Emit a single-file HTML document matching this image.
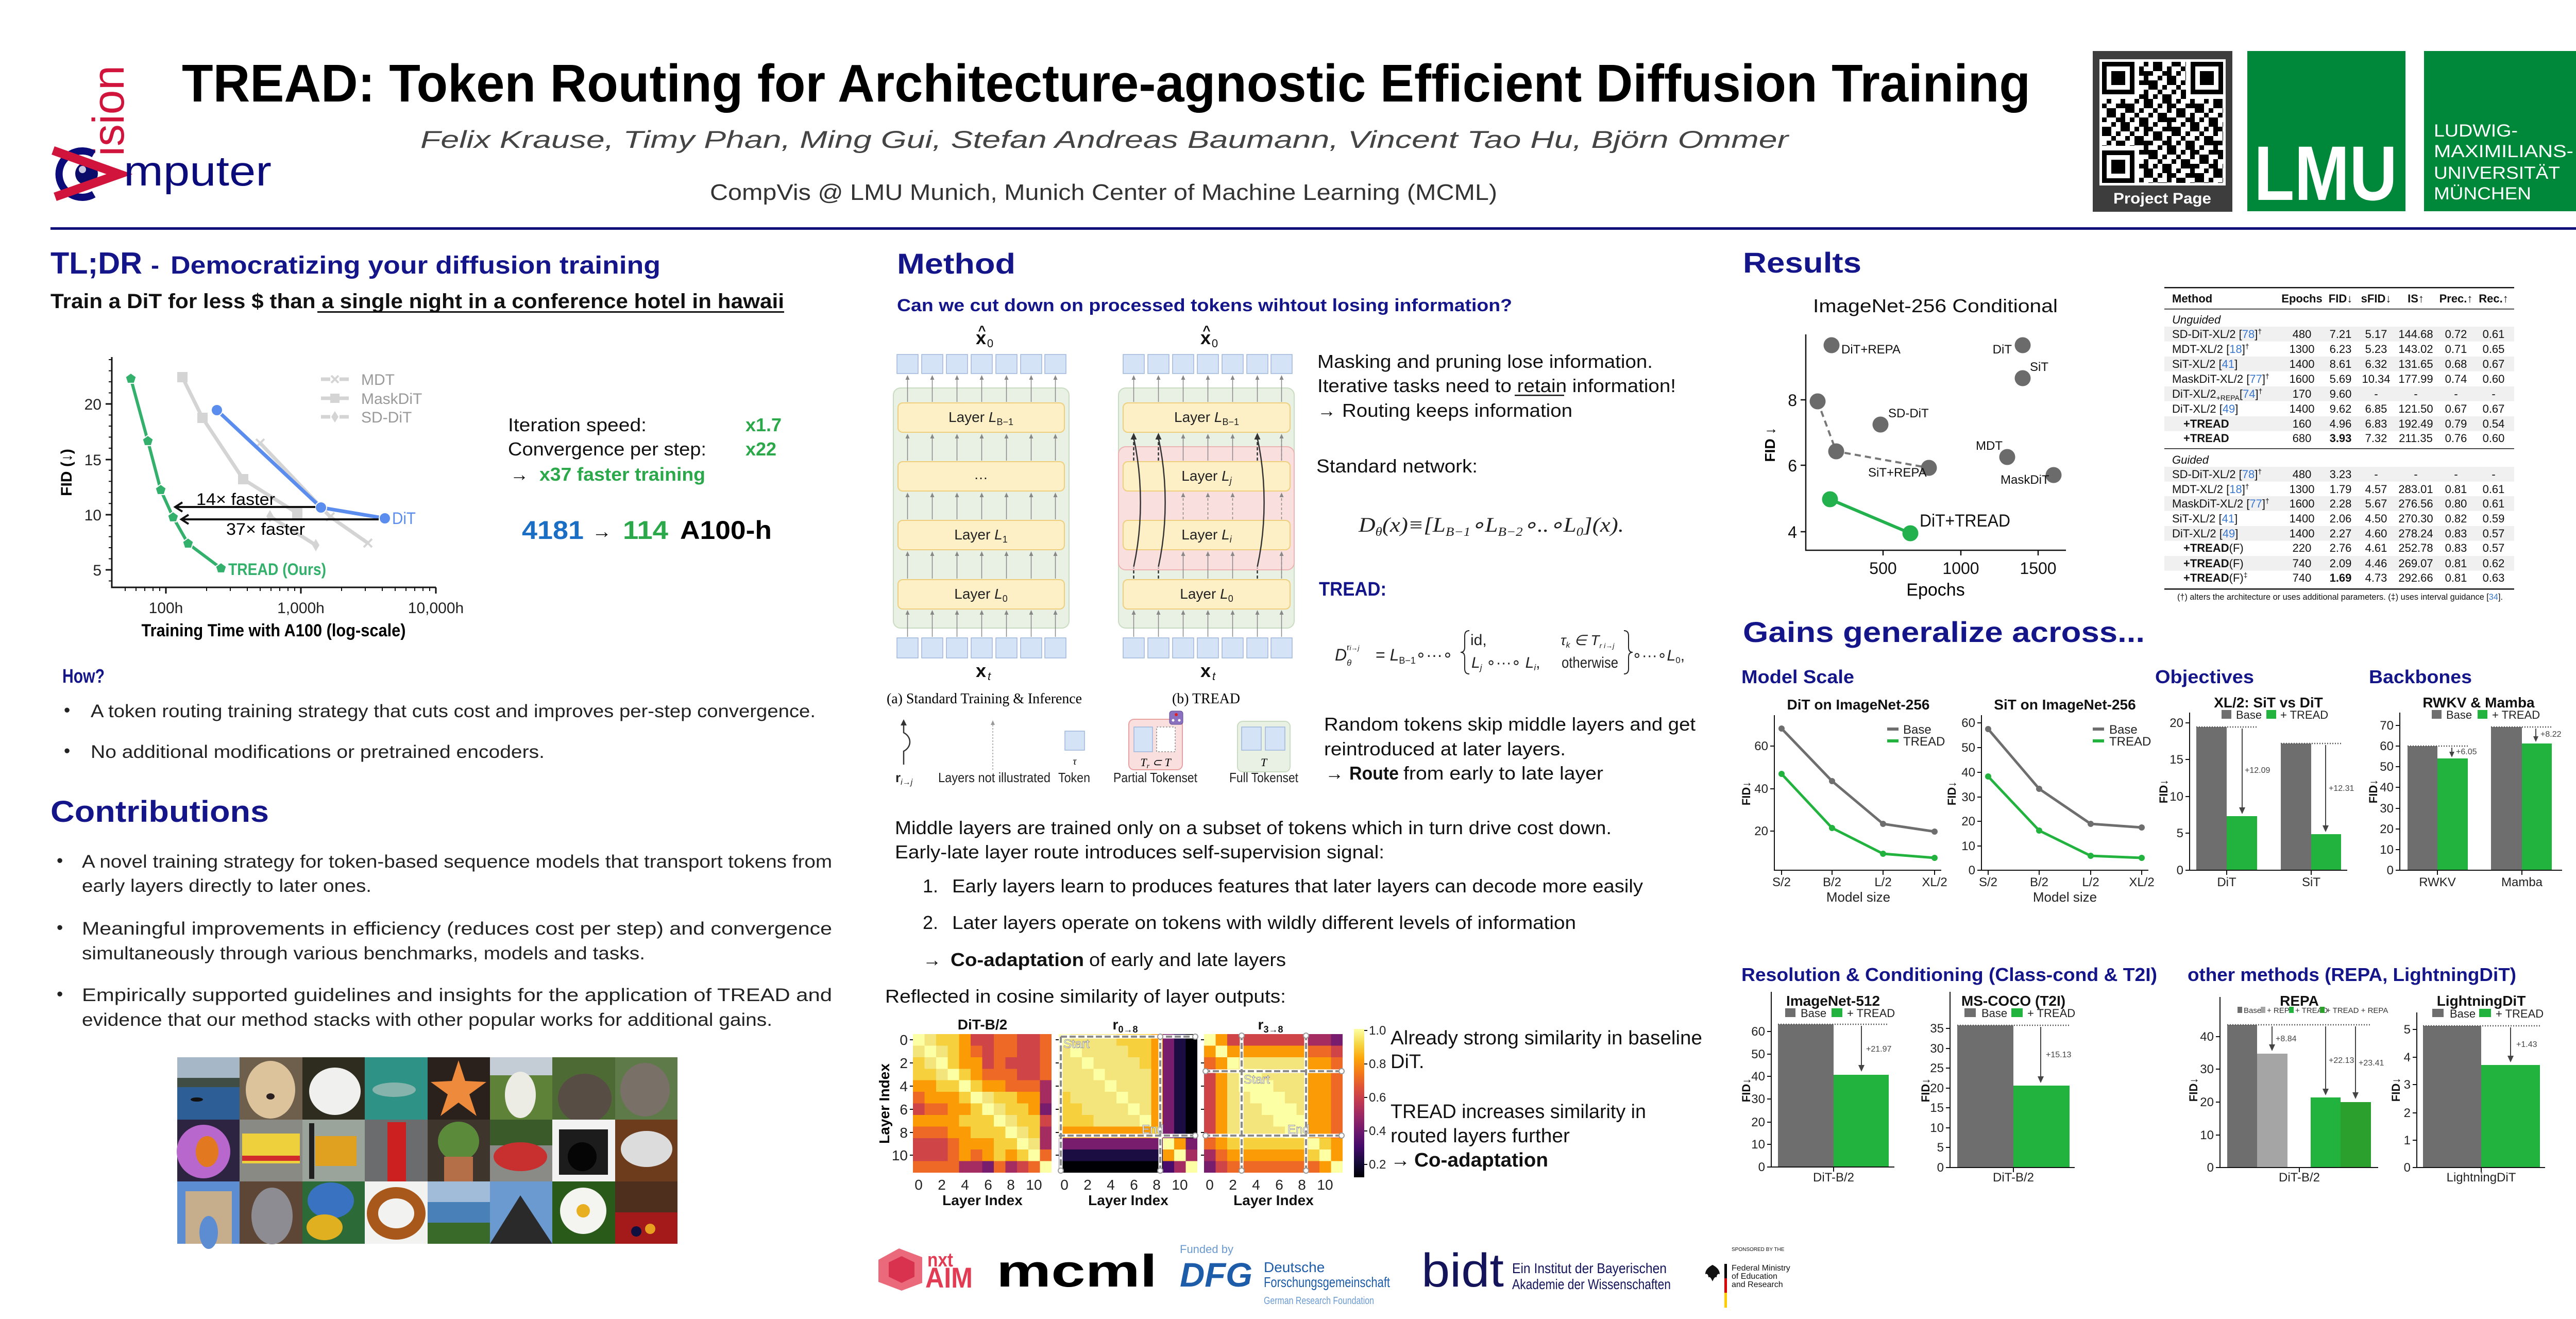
<!DOCTYPE html>
<html><head><meta charset="utf-8"><title>TREAD poster</title>
<style>
html,body{margin:0;padding:0;background:#fff;}
svg{display:block;}
text{font-family:"Liberation Sans",sans-serif;}
.sf{font-family:"Liberation Serif",serif;}
.nv{fill:#15158a;font-weight:bold;}
.c0{fill:#000004}.c1{fill:#1b0c41}.c2{fill:#4a0c6b}.c3{fill:#781c6d}.c4{fill:#a52c60}.c5{fill:#cf4446}.c6{fill:#ed6925}.c7{fill:#fb9b06}.c8{fill:#f7d13d}.c8b{fill:#f4e47c}.c9{fill:#fcffa4}
.tk{fill:#d5e3f7;stroke:#9db6da;stroke-width:1.5}
.ly{fill:#fdefc6;stroke:#efcf7c;stroke-width:2}
</style></head><body>
<svg width="5120" height="2560" viewBox="0 0 5120 2560" xmlns="http://www.w3.org/2000/svg">
<defs>
<linearGradient id="cb" x1="0" y1="0" x2="0" y2="1">
<stop offset="0" stop-color="#fcffa4"/><stop offset="0.1" stop-color="#f6d746"/><stop offset="0.2" stop-color="#fca50a"/><stop offset="0.3" stop-color="#f37819"/><stop offset="0.4" stop-color="#dd513a"/><stop offset="0.5" stop-color="#bc3754"/><stop offset="0.6" stop-color="#932667"/><stop offset="0.7" stop-color="#6a176e"/><stop offset="0.8" stop-color="#420a68"/><stop offset="0.9" stop-color="#160b39"/><stop offset="1" stop-color="#000004"/>
</linearGradient>
<pattern id="qa" x="4080" y="120" width="27" height="27" patternUnits="userSpaceOnUse"><rect width="9" height="9"/><rect x="9" y="18" width="9" height="9"/><rect x="18" y="9" width="9" height="9"/></pattern>
<pattern id="qb" x="4080" y="120" width="45" height="45" patternUnits="userSpaceOnUse"><rect x="9" y="0" width="9" height="9"/><rect x="27" y="18" width="18" height="9"/><rect x="0" y="36" width="9" height="9"/><rect x="36" y="27" width="9" height="18"/><rect x="18" y="9" width="9" height="9"/></pattern>
<path id="pent" d="M0,-11 L10.5,-3.4 L6.5,8.9 L-6.5,8.9 L-10.5,-3.4 Z"/>
</defs>
<rect width="5120" height="2560" fill="#fff"/>

<!-- ================= HEADER ================= -->
<text transform="translate(240,303) rotate(-90)" font-size="86" fill="#d0143c" textLength="176" lengthAdjust="spacingAndGlyphs">ision</text>
<path d="M182 299 A45 45 0 1 0 182 377" fill="none" stroke="#0b0b7a" stroke-width="14"/>
<circle cx="168" cy="337" r="22" fill="#0b0b6a"/><circle cx="160" cy="329" r="7" fill="#c8c8e0"/>
<polyline points="103,292 232,338 107,382" fill="none" stroke="#d0143c" stroke-width="17"/>
<text x="240" y="360" font-size="82" fill="#0b0b7a" textLength="287" lengthAdjust="spacingAndGlyphs">mputer</text>

<text x="353" y="197" font-size="103" font-weight="bold" fill="#000" textLength="3588" lengthAdjust="spacingAndGlyphs">TREAD: Token Routing for Architecture-agnostic Efficient Diffusion Training</text>
<text x="816" y="287" font-size="47" font-style="italic" fill="#444" textLength="2655" lengthAdjust="spacingAndGlyphs">Felix Krause, Timy Phan, Ming Gui, Stefan Andreas Baumann, Vincent Tao Hu, Björn Ommer</text>
<text x="1378" y="388" font-size="44" fill="#333" textLength="1528" lengthAdjust="spacingAndGlyphs">CompVis @ LMU Munich, Munich Center of Machine Learning (MCML)</text>

<!-- QR -->
<rect x="4062" y="99" width="271" height="312" fill="#3d3d3d"/>
<rect x="4075" y="115" width="245" height="245" fill="#fff"/>
<rect x="4080" y="120" width="235" height="235" fill="url(#qa)"/>
<rect x="4080" y="120" width="235" height="235" fill="url(#qb)"/>
<rect x="4080" y="120" width="72" height="72" fill="#fff"/><rect x="4080" y="120" width="63" height="63" fill="#000"/><rect x="4089" y="129" width="45" height="45" fill="#fff"/><rect x="4098" y="138" width="27" height="27" fill="#000"/>
<rect x="4243" y="120" width="72" height="72" fill="#fff"/><rect x="4252" y="120" width="63" height="63" fill="#000"/><rect x="4261" y="129" width="45" height="45" fill="#fff"/><rect x="4270" y="138" width="27" height="27" fill="#000"/>
<rect x="4080" y="283" width="72" height="72" fill="#fff"/><rect x="4080" y="292" width="63" height="63" fill="#000"/><rect x="4089" y="301" width="45" height="45" fill="#fff"/><rect x="4098" y="310" width="27" height="27" fill="#000"/>
<text x="4197" y="395" font-size="30" font-weight="bold" fill="#fff" text-anchor="middle" textLength="190" lengthAdjust="spacingAndGlyphs">Project Page</text>

<!-- LMU -->
<rect x="4362" y="99" width="307" height="311" fill="#00883a"/>
<text x="4375" y="388" font-size="150" font-weight="bold" fill="#fff" textLength="278" lengthAdjust="spacingAndGlyphs">LMU</text>
<rect x="4705" y="99" width="310" height="311" fill="#00883a"/>
<g font-size="34" fill="#fff">
<text x="4724" y="265" textLength="163" lengthAdjust="spacingAndGlyphs">LUDWIG-</text>
<text x="4724" y="305" textLength="271" lengthAdjust="spacingAndGlyphs">MAXIMILIANS-</text>
<text x="4724" y="347" textLength="245" lengthAdjust="spacingAndGlyphs">UNIVERSITÄT</text>
<text x="4724" y="387" textLength="189" lengthAdjust="spacingAndGlyphs">MÜNCHEN</text>
</g>
<rect x="98" y="441" width="4917" height="5" fill="#10107a"/>

<!-- ================= LEFT COLUMN ================= -->
<text x="98" y="531" font-size="59" class="nv" textLength="178" lengthAdjust="spacingAndGlyphs">TL;DR</text>
<text x="293" y="531" font-size="48" class="nv">-</text>
<text x="331" y="531" font-size="48" class="nv" textLength="951" lengthAdjust="spacingAndGlyphs">Democratizing your diffusion training</text>
<text x="98" y="598" font-size="40" font-weight="bold" fill="#111" textLength="1424" lengthAdjust="spacingAndGlyphs">Train a DiT for less $ than a single night in a conference hotel in hawaii</text>
<rect x="616" y="604" width="906" height="3" fill="#111"/>

<!-- left chart -->
<g stroke="#111" fill="none">
<path d="M217 693 V1140 H846" stroke-width="3"/>
<path d="M217 784h-12M217 892h-12M217 999h-12M217 1106h-12" stroke-width="3"/>
<path d="M217 1127.5h-6M217 1084.5h-6M217 1063h-6M217 1041.6h-6M217 1020.2h-6M217 977.2h-6M217 955.8h-6M217 934.3h-6M217 912.8h-6M217 869.9h-6M217 848.4h-6M217 827h-6M217 805.5h-6M217 762.5h-6M217 741h-6M217 719.6h-6M217 698h-6" stroke-width="2"/>
<path d="M322 1140v12M584 1140v12M846 1140v12" stroke-width="3"/>
<path d="M243 1140v7M264 1140v7M281 1140v7M297 1140v7M310 1140v7M401 1140v7M447 1140v7M480 1140v7M505 1140v7M526 1140v7M543 1140v7M559 1140v7M572 1140v7M663 1140v7M709 1140v7M742 1140v7M767 1140v7M788 1140v7M805 1140v7M821 1140v7M834 1140v7" stroke-width="2"/>
</g>
<g font-size="30" fill="#222" text-anchor="end"><text x="197" y="795">20</text><text x="197" y="903">15</text><text x="197" y="1010">10</text><text x="197" y="1117">5</text></g>
<g font-size="30" fill="#222" text-anchor="middle"><text x="322" y="1190">100h</text><text x="584" y="1190">1,000h</text><text x="846" y="1190">10,000h</text></g>
<text transform="translate(139,917) rotate(-90)" text-anchor="middle" font-size="30" font-weight="bold">FID (↓)</text>
<text x="531" y="1235" text-anchor="middle" font-size="34" font-weight="bold" textLength="513" lengthAdjust="spacingAndGlyphs">Training Time with A100 (log-scale)</text>
<g stroke="#d4d4d4" stroke-width="7" fill="none">
<polyline points="354,732 393,811 472,930 577,996"/>
<polyline points="505,860 641,1003 714,1054"/>
<polyline points="524,1002 613,1058"/>
</g>
<g fill="#d4d4d4"><rect x="344" y="722" width="20" height="20"/><rect x="383" y="801" width="20" height="20"/><rect x="462" y="920" width="20" height="20"/><rect x="567" y="986" width="20" height="20"/>
<path d="M524 990 l7 12 l-7 12 l-7 -12z M613 1046 l7 12 l-7 12 l-7 -12z"/></g>
<g stroke="#d4d4d4" stroke-width="4"><path d="M497 852l16 16M513 852l-16 16M633 995l16 16M649 995l-16 16M706 1046l16 16M722 1046l-16 16"/></g>
<polyline points="421,796 623,985 747,1006" fill="none" stroke="#5b8def" stroke-width="7"/>
<g fill="#5b8def" stroke="#fff" stroke-width="2"><circle cx="421" cy="796" r="11"/><circle cx="623" cy="985" r="11"/><circle cx="747" cy="1006" r="11"/></g>
<polyline points="254,735 287,856 312,951 336,1004 365,1055 429,1103" fill="none" stroke="#33b06b" stroke-width="6"/>
<g fill="#33b06b" stroke="#fff" stroke-width="2"><use href="#pent" x="254" y="735"/><use href="#pent" x="287" y="856"/><use href="#pent" x="312" y="951"/><use href="#pent" x="336" y="1004"/><use href="#pent" x="365" y="1055"/><use href="#pent" x="429" y="1103"/></g>
<path d="M612 984 H340 M354 975 L340 984 L354 993" stroke="#111" stroke-width="4" fill="none"/>
<path d="M735 1008 H352 M366 999 L352 1008 L366 1017" stroke="#111" stroke-width="4" fill="none"/>
<text x="381" y="980" font-size="32" textLength="153" lengthAdjust="spacingAndGlyphs">14× faster</text>
<text x="439" y="1038" font-size="32" textLength="153" lengthAdjust="spacingAndGlyphs">37× faster</text>
<text x="443" y="1116" font-size="32" font-weight="bold" fill="#33b06b" textLength="190" lengthAdjust="spacingAndGlyphs">TREAD (Ours)</text>
<text x="761" y="1017" font-size="32" fill="#5b8def" textLength="46" lengthAdjust="spacingAndGlyphs">DiT</text>
<g stroke="#d4d4d4" stroke-width="7"><path d="M623 736h18M659 736h18M623 773h18M659 773h18M623 809h18M659 809h18"/></g>
<g stroke="#d4d4d4" stroke-width="4"><path d="M643 729l14 14M657 729l-14 14"/></g>
<rect x="641" y="764" width="18" height="18" fill="#d4d4d4"/>
<path d="M650 798l7 11l-7 11l-7-11z" fill="#d4d4d4"/>
<g font-size="30" fill="#9a9a9a"><text x="701" y="747">MDT</text><text x="701" y="784">MaskDiT</text><text x="701" y="820">SD-DiT</text></g>

<g font-size="36" fill="#111">
<text x="986" y="837" textLength="269" lengthAdjust="spacingAndGlyphs">Iteration speed:</text>
<text x="986" y="884" textLength="385" lengthAdjust="spacingAndGlyphs">Convergence per step:</text>
<text x="990" y="933">→</text>
</g>
<g font-size="36" font-weight="bold" fill="#2aa84a">
<text x="1447" y="837">x1.7</text>
<text x="1447" y="884">x22</text>
<text x="1047" y="933" textLength="322" lengthAdjust="spacingAndGlyphs">x37 faster training</text>
</g>
<text x="1013" y="1046" font-size="50" font-weight="bold" fill="#1a6fc4" textLength="120" lengthAdjust="spacingAndGlyphs">4181</text>
<text x="1149" y="1044" font-size="38" fill="#111">→</text>
<text x="1209" y="1046" font-size="50" font-weight="bold" fill="#2aa84a" textLength="88" lengthAdjust="spacingAndGlyphs">114</text>
<text x="1320" y="1046" font-size="50" font-weight="bold" fill="#000" textLength="178" lengthAdjust="spacingAndGlyphs">A100-h</text>

<text x="121" y="1325" font-size="38" class="nv" textLength="82" lengthAdjust="spacingAndGlyphs">How?</text>
<g font-size="35" fill="#222">
<text x="124" y="1390">•</text>
<text x="176" y="1392" textLength="1407" lengthAdjust="spacingAndGlyphs">A token routing training strategy that cuts cost and improves per-step convergence.</text>
<text x="124" y="1469">•</text>
<text x="176" y="1471" textLength="881" lengthAdjust="spacingAndGlyphs">No additional modifications or pretrained encoders.</text>
</g>

<text x="98" y="1595" font-size="58" class="nv" textLength="424" lengthAdjust="spacingAndGlyphs">Contributions</text>
<g font-size="35" fill="#222">
<text x="110" y="1682">•</text>
<text x="159" y="1684" textLength="1456" lengthAdjust="spacingAndGlyphs">A novel training strategy for token-based sequence models that transport tokens from</text>
<text x="159" y="1731" textLength="562" lengthAdjust="spacingAndGlyphs">early layers directly to later ones.</text>
<text x="110" y="1812">•</text>
<text x="159" y="1814" textLength="1456" lengthAdjust="spacingAndGlyphs">Meaningful improvements in efficiency (reduces cost per step) and convergence</text>
<text x="159" y="1862" textLength="1093" lengthAdjust="spacingAndGlyphs">simultaneously through various benchmarks, models and tasks.</text>
<text x="110" y="1941">•</text>
<text x="159" y="1943" textLength="1456" lengthAdjust="spacingAndGlyphs">Empirically supported guidelines and insights for the application of TREAD and</text>
<text x="159" y="1991" textLength="1340" lengthAdjust="spacingAndGlyphs">evidence that our method stacks with other popular works for additional gains.</text>
</g>

<!-- image grid -->
<g>
<rect x="344" y="2052" width="121" height="40" fill="#a6b8c8"/><rect x="344" y="2092" width="121" height="18" fill="#3f4d45"/><rect x="344" y="2110" width="121" height="63" fill="#2d5f96"/><ellipse cx="382" cy="2134" rx="12" ry="4" fill="#111"/>
<rect x="465" y="2052" width="122" height="121" fill="#6e5e4c"/><ellipse cx="525" cy="2115" rx="48" ry="56" fill="#dcc39c"/><ellipse cx="525" cy="2128" rx="8" ry="6" fill="#2a2020"/>
<rect x="587" y="2052" width="121" height="121" fill="#2e2c1e"/><ellipse cx="650" cy="2118" rx="50" ry="46" fill="#f0f0ee"/>
<rect x="708" y="2052" width="122" height="121" fill="#2e9286"/><ellipse cx="765" cy="2115" rx="42" ry="14" fill="#86b4ac"/>
<rect x="830" y="2052" width="121" height="121" fill="#2a201c"/><polygon points="890,2058 903,2098 944,2100 911,2124 925,2166 890,2140 855,2166 869,2124 836,2100 877,2098" fill="#ee8a3c"/>
<rect x="951" y="2052" width="121" height="35" fill="#c4cdd6"/><rect x="951" y="2087" width="121" height="86" fill="#5e8238"/><ellipse cx="1010" cy="2125" rx="30" ry="45" fill="#ecebe4"/>
<rect x="1072" y="2052" width="122" height="121" fill="#4e6a34"/><ellipse cx="1135" cy="2132" rx="52" ry="48" fill="#574d44"/>
<rect x="1194" y="2052" width="121" height="121" fill="#5d7a48"/><ellipse cx="1252" cy="2115" rx="48" ry="52" fill="#797068"/>

<rect x="344" y="2173" width="121" height="120" fill="#2c2440"/><ellipse cx="395" cy="2235" rx="52" ry="52" fill="#b868cc"/><ellipse cx="402" cy="2235" rx="22" ry="30" fill="#e27820"/>
<rect x="465" y="2173" width="122" height="120" fill="#8a8a84"/><rect x="470" y="2200" width="112" height="58" fill="#eecf3c"/><rect x="470" y="2243" width="112" height="10" fill="#d02a2a"/>
<rect x="587" y="2173" width="121" height="120" fill="#9aa49a"/><rect x="612" y="2205" width="80" height="58" fill="#e0a020"/><rect x="600" y="2180" width="10" height="108" fill="#202020"/>
<rect x="708" y="2173" width="122" height="120" fill="#6a6c6e"/><rect x="752" y="2178" width="36" height="115" fill="#cc1f1f"/>
<rect x="830" y="2173" width="121" height="120" fill="#3e362c"/><ellipse cx="890" cy="2215" rx="40" ry="38" fill="#5a8a3a"/><rect x="862" y="2245" width="56" height="48" fill="#b46e48"/>
<rect x="951" y="2173" width="121" height="50" fill="#3a5a2a"/><rect x="951" y="2223" width="121" height="70" fill="#8a8a86"/><ellipse cx="1010" cy="2245" rx="52" ry="28" fill="#c83030"/>
<rect x="1072" y="2173" width="122" height="120" fill="#f2f2f2"/><rect x="1085" y="2192" width="95" height="88" fill="#1c1c1c"/><circle cx="1130" cy="2245" r="28" fill="#050505"/>
<rect x="1194" y="2173" width="121" height="120" fill="#6c3c1c"/><ellipse cx="1255" cy="2230" rx="50" ry="35" fill="#dcdcdc"/>

<rect x="344" y="2293" width="121" height="121" fill="#5c8cd2"/><rect x="360" y="2312" width="90" height="102" fill="#c6ae8c"/><ellipse cx="405" cy="2392" rx="18" ry="32" fill="#5c8cd2"/>
<rect x="465" y="2293" width="122" height="121" fill="#5e4636"/><ellipse cx="528" cy="2360" rx="40" ry="55" fill="#8c8c92"/>
<rect x="587" y="2293" width="121" height="121" fill="#2c6a38"/><ellipse cx="642" cy="2330" rx="45" ry="35" fill="#3a72c2"/><ellipse cx="630" cy="2382" rx="35" ry="25" fill="#e0b020"/>
<rect x="708" y="2293" width="122" height="121" fill="#f2f2f0"/><ellipse cx="769" cy="2355" rx="46" ry="40" fill="none" stroke="#a8581a" stroke-width="22"/>
<rect x="830" y="2293" width="121" height="40" fill="#a0bcd8"/><rect x="830" y="2333" width="121" height="40" fill="#4a80b8"/><rect x="830" y="2373" width="121" height="41" fill="#3a6a2a"/>
<rect x="951" y="2293" width="121" height="121" fill="#6a9ad0"/><polygon points="951,2414 1010,2320 1072,2414" fill="#2a2a2a"/>
<rect x="1072" y="2293" width="122" height="121" fill="#2a5a1a"/><circle cx="1132" cy="2350" r="45" fill="#f4f4f0"/><circle cx="1132" cy="2350" r="13" fill="#e8b020"/>
<rect x="1194" y="2293" width="121" height="60" fill="#4e2e1c"/><rect x="1194" y="2353" width="121" height="61" fill="#a41a1a"/><circle cx="1235" cy="2390" r="10" fill="#101040"/><circle cx="1262" cy="2385" r="10" fill="#e8a020"/>
</g>

<!-- ================= MIDDLE COLUMN ================= -->
<text x="1741" y="531" font-size="56" class="nv" textLength="230" lengthAdjust="spacingAndGlyphs">Method</text>
<text x="1741" y="604" font-size="34" class="nv" textLength="1194" lengthAdjust="spacingAndGlyphs">Can we cut down on processed tokens wihtout losing information?</text>

<rect x="1734" y="753" width="341" height="466" rx="14" fill="#e8f1e4" stroke="#c9dcc2" stroke-width="2"/>
<rect x="2171" y="753" width="341" height="466" rx="14" fill="#e8f1e4" stroke="#c9dcc2" stroke-width="2"/>
<rect x="2171" y="867" width="341" height="239" rx="14" fill="#fadfdf" stroke="#ebb3b3" stroke-width="2"/>
<g>
<rect class="tk" x="1741" y="688" width="41" height="37"/><rect class="tk" x="1789" y="688" width="41" height="37"/><rect class="tk" x="1837" y="688" width="41" height="37"/><rect class="tk" x="1885" y="688" width="41" height="37"/><rect class="tk" x="1933" y="688" width="41" height="37"/><rect class="tk" x="1981" y="688" width="41" height="37"/><rect class="tk" x="2028" y="688" width="41" height="37"/>
<rect class="tk" x="1741" y="1238" width="41" height="39"/><rect class="tk" x="1789" y="1238" width="41" height="39"/><rect class="tk" x="1837" y="1238" width="41" height="39"/><rect class="tk" x="1885" y="1238" width="41" height="39"/><rect class="tk" x="1933" y="1238" width="41" height="39"/><rect class="tk" x="1981" y="1238" width="41" height="39"/><rect class="tk" x="2028" y="1238" width="41" height="39"/>
<rect class="tk" x="2180" y="688" width="41" height="37"/><rect class="tk" x="2228" y="688" width="41" height="37"/><rect class="tk" x="2276" y="688" width="41" height="37"/><rect class="tk" x="2324" y="688" width="41" height="37"/><rect class="tk" x="2372" y="688" width="41" height="37"/><rect class="tk" x="2420" y="688" width="41" height="37"/><rect class="tk" x="2467" y="688" width="41" height="37"/>
<rect class="tk" x="2180" y="1238" width="41" height="39"/><rect class="tk" x="2228" y="1238" width="41" height="39"/><rect class="tk" x="2276" y="1238" width="41" height="39"/><rect class="tk" x="2324" y="1238" width="41" height="39"/><rect class="tk" x="2372" y="1238" width="41" height="39"/><rect class="tk" x="2420" y="1238" width="41" height="39"/><rect class="tk" x="2467" y="1238" width="41" height="39"/>
</g>
<rect class="ly" x="1743" y="782" width="323" height="57" rx="9"/><rect class="ly" x="1743" y="896" width="323" height="57" rx="9"/><rect class="ly" x="1743" y="1010" width="323" height="57" rx="9"/><rect class="ly" x="1743" y="1125" width="323" height="57" rx="9"/>
<rect class="ly" x="2180" y="782" width="324" height="57" rx="9"/><rect class="ly" x="2180" y="896" width="324" height="57" rx="9"/><rect class="ly" x="2180" y="1010" width="324" height="57" rx="9"/><rect class="ly" x="2180" y="1125" width="324" height="57" rx="9"/>
<g class="sf" font-size="28" text-anchor="middle" fill="#222">
<text x="1904" y="819">Layer <tspan font-style="italic">L</tspan><tspan font-size="18" dy="6">B−1</tspan></text>
<text x="1904" y="930">…</text>
<text x="1904" y="1047">Layer <tspan font-style="italic">L</tspan><tspan font-size="18" dy="6">1</tspan></text>
<text x="1904" y="1162">Layer <tspan font-style="italic">L</tspan><tspan font-size="18" dy="6">0</tspan></text>
<text x="2342" y="819">Layer <tspan font-style="italic">L</tspan><tspan font-size="18" dy="6">B−1</tspan></text>
<text x="2342" y="933">Layer <tspan font-style="italic">L</tspan><tspan font-size="18" font-style="italic" dy="6">j</tspan></text>
<text x="2342" y="1047">Layer <tspan font-style="italic">L</tspan><tspan font-size="18" font-style="italic" dy="6">i</tspan></text>
<text x="2342" y="1162">Layer <tspan font-style="italic">L</tspan><tspan font-size="18" dy="6">0</tspan></text>
</g>
<path stroke="#888" stroke-width="1.5" fill="none" d="M1761.5 780V732M1809.5 780V732M1857.5 780V732M1905.5 780V732M1953.5 780V732M2001.5 780V732M2048.5 780V732
M1761.5 894V846M1809.5 894V846M1857.5 894V846M1905.5 894V846M1953.5 894V846M2001.5 894V846M2048.5 894V846
M1761.5 1008V960M1809.5 1008V960M1857.5 1008V960M1905.5 1008V960M1953.5 1008V960M2001.5 1008V960M2048.5 1008V960
M1761.5 1123V1074M1809.5 1123V1074M1857.5 1123V1074M1905.5 1123V1074M1953.5 1123V1074M2001.5 1123V1074M2048.5 1123V1074
M1761.5 1236V1188M1809.5 1236V1188M1857.5 1236V1188M1905.5 1236V1188M1953.5 1236V1188M2001.5 1236V1188M2048.5 1236V1188
M2200.5 780V732M2248.5 780V732M2296.5 780V732M2344.5 780V732M2392.5 780V732M2440.5 780V732M2487.5 780V732
M2296.5 894V846M2344.5 894V846M2392.5 894V846M2487.5 894V846
M2296.5 1123V1074M2344.5 1123V1074M2392.5 1123V1074M2487.5 1123V1074
M2200.5 1236V1188M2248.5 1236V1188M2296.5 1236V1188M2344.5 1236V1188M2392.5 1236V1188M2440.5 1236V1188M2487.5 1236V1188"/>
<path stroke="#888" stroke-width="1.5" stroke-dasharray="5 4" fill="none" d="M2296.5 1008V960M2344.5 1008V960M2392.5 1008V960M2487.5 1008V960M2487.5 894V846M2487.5 1123V1074"/>
<path fill="#888" d="M1761.5 728l-4 9h8zM1809.5 728l-4 9h8zM1857.5 728l-4 9h8zM1905.5 728l-4 9h8zM1953.5 728l-4 9h8zM2001.5 728l-4 9h8zM2048.5 728l-4 9h8z
M1761.5 842l-4 9h8zM1809.5 842l-4 9h8zM1857.5 842l-4 9h8zM1905.5 842l-4 9h8zM1953.5 842l-4 9h8zM2001.5 842l-4 9h8zM2048.5 842l-4 9h8z
M1761.5 956l-4 9h8zM1809.5 956l-4 9h8zM1857.5 956l-4 9h8zM1905.5 956l-4 9h8zM1953.5 956l-4 9h8zM2001.5 956l-4 9h8zM2048.5 956l-4 9h8z
M1761.5 1070l-4 9h8zM1809.5 1070l-4 9h8zM1857.5 1070l-4 9h8zM1905.5 1070l-4 9h8zM1953.5 1070l-4 9h8zM2001.5 1070l-4 9h8zM2048.5 1070l-4 9h8z
M1761.5 1184l-4 9h8zM1809.5 1184l-4 9h8zM1857.5 1184l-4 9h8zM1905.5 1184l-4 9h8zM1953.5 1184l-4 9h8zM2001.5 1184l-4 9h8zM2048.5 1184l-4 9h8z
M2200.5 728l-4 9h8zM2248.5 728l-4 9h8zM2296.5 728l-4 9h8zM2344.5 728l-4 9h8zM2392.5 728l-4 9h8zM2440.5 728l-4 9h8zM2487.5 728l-4 9h8z
M2296.5 842l-4 9h8zM2344.5 842l-4 9h8zM2392.5 842l-4 9h8zM2487.5 842l-4 9h8z
M2296.5 956l-4 9h8zM2344.5 956l-4 9h8zM2392.5 956l-4 9h8zM2487.5 956l-4 9h8z
M2296.5 1070l-4 9h8zM2344.5 1070l-4 9h8zM2392.5 1070l-4 9h8zM2487.5 1070l-4 9h8z
M2200.5 1184l-4 9h8zM2248.5 1184l-4 9h8zM2296.5 1184l-4 9h8zM2344.5 1184l-4 9h8zM2392.5 1184l-4 9h8zM2440.5 1184l-4 9h8zM2487.5 1184l-4 9h8z"/>
<g stroke="#333" stroke-width="2.5" fill="none">
<path d="M2200.5 1100 C2218 1020,2218 930,2200.5 850"/>
<path d="M2248.5 1100 C2266 1020,2266 930,2248.5 850"/>
<path d="M2440.5 1100 C2458 1020,2458 930,2440.5 850"/>
<path d="M2200.5 1123V1102M2248.5 1123V1102M2440.5 1123V1102M2200.5 894V852M2248.5 894V852M2440.5 894V852" stroke-dasharray="6 4"/>
</g>
<path fill="#333" d="M2200.5 840l-6 13h12zM2248.5 840l-6 13h12zM2440.5 840l-6 13h12z"/>
<g class="sf" font-size="36" font-weight="bold" text-anchor="middle" fill="#111">
<text x="1904" y="668">x</text><text x="1906" y="650" font-size="26">^</text><text x="1922" y="674" font-size="22" font-weight="normal">0</text>
<text x="2340" y="668">x</text><text x="2342" y="650" font-size="26">^</text><text x="2358" y="674" font-size="22" font-weight="normal">0</text>
<text x="1904" y="1314">x</text><text x="1920" y="1320" font-size="22" font-weight="normal" font-style="italic">t</text>
<text x="2340" y="1314">x</text><text x="2356" y="1320" font-size="22" font-weight="normal" font-style="italic">t</text>
</g>
<text x="1721" y="1365" class="sf" font-size="28" textLength="379" lengthAdjust="spacingAndGlyphs">(a) Standard Training &amp; Inference</text>
<text x="2275" y="1365" class="sf" font-size="28" textLength="132" lengthAdjust="spacingAndGlyphs">(b) TREAD</text>
<path d="M1754 1484 V1458 C1770 1450,1770 1430,1754 1422 V1404" stroke="#333" stroke-width="2.5" fill="none"/>
<path d="M1754 1396l-6 12h12z" fill="#333"/>
<path d="M1927 1494 V1404" stroke="#999" stroke-width="1.5" stroke-dasharray="3 3"/><path d="M1927 1398l-4 9h8z" fill="#999"/>
<rect class="tk" x="2067" y="1419" width="38" height="37"/>
<text x="2086" y="1484" class="sf" font-size="20" font-style="italic" text-anchor="middle">τ</text>
<rect x="2191" y="1396" width="104" height="98" rx="10" fill="#fadfdf" stroke="#e8a0a0" stroke-width="2"/>
<rect class="tk" x="2201" y="1411" width="36" height="48"/>
<rect x="2245" y="1411" width="36" height="48" fill="#fff" stroke="#888" stroke-width="1.5" stroke-dasharray="3 3"/>
<rect x="2270" y="1380" width="26" height="26" rx="5" fill="#8c70c0" stroke="#5a4a90"/><circle cx="2283" cy="1387" r="3" fill="#e02020"/><circle cx="2277" cy="1398" r="2.5" fill="#fff"/><circle cx="2289" cy="1398" r="2.5" fill="#fff"/>
<text x="2243" y="1487" class="sf" font-size="22" font-style="italic" text-anchor="middle">T<tspan font-size="14" dy="4">r</tspan><tspan dy="-4"> ⊂ T</tspan></text>
<rect x="2402" y="1400" width="102" height="98" rx="10" fill="#e8f1e4" stroke="#c9dcc2" stroke-width="2"/>
<rect class="tk" x="2410" y="1411" width="38" height="45"/><rect class="tk" x="2456" y="1411" width="38" height="45"/>
<text x="2453" y="1487" class="sf" font-size="22" font-style="italic" text-anchor="middle">T</text>
<g class="sf" font-size="26" fill="#222">
<text x="1738" y="1518" font-weight="bold">r<tspan font-size="16" font-weight="normal" font-style="italic" dy="5">i→j</tspan></text>
<text x="1821" y="1518" textLength="218" lengthAdjust="spacingAndGlyphs">Layers not illustrated</text>
<text x="2054" y="1518" textLength="62" lengthAdjust="spacingAndGlyphs">Token</text>
<text x="2161" y="1518" textLength="163" lengthAdjust="spacingAndGlyphs">Partial Tokenset</text>
<text x="2386" y="1518" textLength="134" lengthAdjust="spacingAndGlyphs">Full Tokenset</text>
</g>

<g font-size="36" fill="#111">
<text x="2557" y="714" textLength="651" lengthAdjust="spacingAndGlyphs">Masking and pruning lose information.</text>
<text x="2557" y="761" textLength="696" lengthAdjust="spacingAndGlyphs">Iterative tasks need to retain information!</text>
<text x="2557" y="809">→</text>
<text x="2605" y="809" textLength="447" lengthAdjust="spacingAndGlyphs">Routing keeps information</text>
<text x="2555" y="917" textLength="313" lengthAdjust="spacingAndGlyphs">Standard network:</text>
</g>
<rect x="2940" y="766" width="96" height="2.5" fill="#111"/>
<text x="2637" y="1032" class="sf" font-size="40" font-style="italic" fill="#222" textLength="515" lengthAdjust="spacingAndGlyphs">D<tspan font-size="24" dy="8">θ</tspan><tspan dy="-8">(x)≡[L</tspan><tspan font-size="24" dy="8">B−1</tspan><tspan dy="-8">∘L</tspan><tspan font-size="24" dy="8">B−2</tspan><tspan dy="-8">∘..∘L</tspan><tspan font-size="24" dy="8">0</tspan><tspan dy="-8">](x).</tspan></text>
<text x="2560" y="1156" font-size="38" class="nv" textLength="131" lengthAdjust="spacingAndGlyphs">TREAD:</text>
<g class="sf" fill="#222">
<text x="2591" y="1282" font-size="32" font-style="italic">D</text>
<text x="2614" y="1262" font-size="17">r<tspan font-style="italic" font-size="13">i→j</tspan></text>
<text x="2614" y="1292" font-size="17" font-style="italic">θ</text>
<text x="2670" y="1282" font-size="32">= <tspan font-style="italic">L</tspan><tspan font-size="18" dy="6">B−1</tspan><tspan dy="-6">∘···∘</tspan></text>
<text x="2854" y="1252" font-size="30">id,</text>
<text x="3029" y="1252" font-size="28" font-style="italic">τ<tspan font-size="16" dy="5">k</tspan><tspan dy="-5"> ∈ T</tspan><tspan font-size="14" dy="6">r i→j</tspan></text>
<text x="2856" y="1296" font-size="30" font-style="italic">L<tspan font-size="17" dy="5">j</tspan><tspan dy="-5" font-style="normal"> ∘···∘ </tspan>L<tspan font-size="17" dy="5">i</tspan><tspan dy="-5" font-style="normal">,</tspan></text>
<text x="3031" y="1296" font-size="30" textLength="110" lengthAdjust="spacingAndGlyphs">otherwise</text>
<text x="3168" y="1282" font-size="30">∘···∘<tspan font-style="italic">L</tspan><tspan font-size="17" dy="5">0</tspan><tspan dy="-5">,</tspan></text>
</g>
<path d="M2852 1224 q-9 0 -9 10 v22 q0 10 -8 10 q8 0 8 10 v22 q0 10 9 10" stroke="#222" stroke-width="2" fill="none"/>
<path d="M3152 1224 q9 0 9 10 v22 q0 10 8 10 q-8 0 -8 10 v22 q0 10 -9 10" stroke="#222" stroke-width="2" fill="none"/>
<g font-size="36" fill="#111">
<text x="2570" y="1418" textLength="721" lengthAdjust="spacingAndGlyphs">Random tokens skip middle layers and get</text>
<text x="2570" y="1466" textLength="469" lengthAdjust="spacingAndGlyphs">reintroduced at later layers.</text>
<text x="2572" y="1513">→</text>
<text x="2619" y="1513" font-weight="bold" textLength="96" lengthAdjust="spacingAndGlyphs">Route</text>
<text x="2724" y="1513" textLength="388" lengthAdjust="spacingAndGlyphs">from early to late layer</text>
</g>

<g font-size="36" fill="#111">
<text x="1737" y="1619" textLength="1391" lengthAdjust="spacingAndGlyphs">Middle layers are trained only on a subset of tokens which in turn drive cost down.</text>
<text x="1737" y="1666" textLength="950" lengthAdjust="spacingAndGlyphs">Early-late layer route introduces self-supervision signal:</text>
<text x="1791" y="1732">1.</text>
<text x="1848" y="1732" textLength="1341" lengthAdjust="spacingAndGlyphs">Early layers learn to produces features that later layers can decode more easily</text>
<text x="1791" y="1803">2.</text>
<text x="1848" y="1803" textLength="1211" lengthAdjust="spacingAndGlyphs">Later layers operate on tokens with wildly different levels of information</text>
<text x="1791" y="1875">→</text>
<text x="1845" y="1875" font-weight="bold" textLength="259" lengthAdjust="spacingAndGlyphs">Co-adaptation</text>
<text x="2114" y="1875" textLength="382" lengthAdjust="spacingAndGlyphs">of early and late layers</text>
<text x="1718" y="1946" textLength="778" lengthAdjust="spacingAndGlyphs">Reflected in cosine similarity of layer outputs:</text>
</g>

<!-- heatmap 1: DiT-B/2 -->
<g transform="translate(1772 2007) scale(22.42)" shape-rendering="crispEdges">
<rect class="c9" x="0" y="0" width="1" height="1"/><rect class="c8b" x="1" y="0" width="1" height="1"/><rect class="c8" x="2" y="0" width="2" height="1"/><rect class="c7" x="4" y="0" width="1" height="1"/><rect class="c5" x="5" y="0" width="2" height="1"/><rect class="c6" x="7" y="0" width="2" height="1"/><rect class="c5" x="9" y="0" width="2" height="1"/><rect class="c6" x="11" y="0" width="1" height="1"/>
<rect class="c8b" x="0" y="1" width="1" height="1"/><rect class="c9" x="1" y="1" width="1" height="1"/><rect class="c8b" x="2" y="1" width="1" height="1"/><rect class="c8" x="3" y="1" width="1" height="1"/><rect class="c7" x="4" y="1" width="1" height="1"/><rect class="c6" x="5" y="1" width="1" height="1"/><rect class="c5" x="6" y="1" width="1" height="1"/><rect class="c6" x="7" y="1" width="2" height="1"/><rect class="c5" x="9" y="1" width="2" height="1"/><rect class="c6" x="11" y="1" width="1" height="1"/>
<rect class="c8" x="0" y="2" width="1" height="1"/><rect class="c8b" x="1" y="2" width="1" height="1"/><rect class="c9" x="2" y="2" width="1" height="1"/><rect class="c8" x="3" y="2" width="1" height="1"/><rect class="c7" x="4" y="2" width="2" height="1"/><rect class="c5" x="6" y="2" width="1" height="1"/><rect class="c6" x="7" y="2" width="1" height="1"/><rect class="c5" x="8" y="2" width="3" height="1"/><rect class="c6" x="11" y="2" width="1" height="1"/>
<rect class="c8" x="0" y="3" width="2" height="1"/><rect class="c8b" x="2" y="3" width="1" height="1"/><rect class="c9" x="3" y="3" width="1" height="1"/><rect class="c8" x="4" y="3" width="1" height="1"/><rect class="c7" x="5" y="3" width="1" height="1"/><rect class="c6" x="6" y="3" width="3" height="1"/><rect class="c5" x="9" y="3" width="2" height="1"/><rect class="c6" x="11" y="3" width="1" height="1"/>
<rect class="c7" x="0" y="4" width="2" height="1"/><rect class="c8" x="2" y="4" width="2" height="1"/><rect class="c9" x="4" y="4" width="1" height="1"/><rect class="c8" x="5" y="4" width="1" height="1"/><rect class="c7" x="6" y="4" width="2" height="1"/><rect class="c6" x="8" y="4" width="3" height="1"/><rect class="c4" x="11" y="4" width="1" height="1"/>
<rect class="c6" x="0" y="5" width="1" height="1"/><rect class="c7" x="1" y="5" width="3" height="1"/><rect class="c8" x="4" y="5" width="1" height="1"/><rect class="c9" x="5" y="5" width="1" height="1"/><rect class="c8b" x="6" y="5" width="1" height="1"/><rect class="c8" x="7" y="5" width="2" height="1"/><rect class="c7" x="9" y="5" width="2" height="1"/><rect class="c4" x="11" y="5" width="1" height="1"/>
<rect class="c5" x="0" y="6" width="1" height="1"/><rect class="c6" x="1" y="6" width="2" height="1"/><rect class="c7" x="3" y="6" width="2" height="1"/><rect class="c8" x="5" y="6" width="1" height="1"/><rect class="c9" x="6" y="6" width="1" height="1"/><rect class="c8b" x="7" y="6" width="1" height="1"/><rect class="c8" x="8" y="6" width="2" height="1"/><rect class="c7" x="10" y="6" width="1" height="1"/><rect class="c3" x="11" y="6" width="1" height="1"/>
<rect class="c7" x="0" y="7" width="4" height="1"/><rect class="c8" x="4" y="7" width="3" height="1"/><rect class="c9" x="7" y="7" width="1" height="1"/><rect class="c8b" x="8" y="7" width="1" height="1"/><rect class="c8" x="9" y="7" width="2" height="1"/><rect class="c5" x="11" y="7" width="1" height="1"/>
<rect class="c6" x="0" y="8" width="3" height="1"/><rect class="c7" x="3" y="8" width="2" height="1"/><rect class="c8" x="5" y="8" width="3" height="1"/><rect class="c9" x="8" y="8" width="1" height="1"/><rect class="c8b" x="9" y="8" width="1" height="1"/><rect class="c8" x="10" y="8" width="1" height="1"/><rect class="c4" x="11" y="8" width="1" height="1"/>
<rect class="c5" x="0" y="9" width="3" height="1"/><rect class="c6" x="3" y="9" width="1" height="1"/><rect class="c7" x="4" y="9" width="3" height="1"/><rect class="c8" x="7" y="9" width="2" height="1"/><rect class="c9" x="9" y="9" width="1" height="1"/><rect class="c8b" x="10" y="9" width="1" height="1"/><rect class="c4" x="11" y="9" width="1" height="1"/>
<rect class="c5" x="0" y="10" width="3" height="1"/><rect class="c6" x="3" y="10" width="1" height="1"/><rect class="c7" x="4" y="10" width="1" height="1"/><rect class="c6" x="5" y="10" width="1" height="1"/><rect class="c7" x="6" y="10" width="1" height="1"/><rect class="c8" x="7" y="10" width="1" height="1"/><rect class="c7" x="8" y="10" width="1" height="1"/><rect class="c8" x="9" y="10" width="1" height="1"/><rect class="c9" x="10" y="10" width="1" height="1"/><rect class="c6" x="11" y="10" width="1" height="1"/>
<rect class="c6" x="0" y="11" width="4" height="1"/><rect class="c4" x="4" y="11" width="2" height="1"/><rect class="c3" x="6" y="11" width="1" height="1"/><rect class="c6" x="7" y="11" width="1" height="1"/><rect class="c4" x="8" y="11" width="1" height="1"/><rect class="c5" x="9" y="11" width="1" height="1"/><rect class="c6" x="10" y="11" width="1" height="1"/><rect class="c9" x="11" y="11" width="1" height="1"/>
</g>
<!-- heatmap 2: r0->8 -->
<g transform="translate(2055 2007) scale(22.42)" shape-rendering="crispEdges">
<rect class="c8b" x="0" y="0" width="8" height="8"/>
<rect class="c8" x="5" y="0" width="3" height="1"/><rect class="c8" x="6" y="1" width="2" height="1"/><rect class="c8" x="7" y="2" width="1" height="1"/>
<rect class="c8" x="0" y="5" width="1" height="3"/><rect class="c8" x="1" y="6" width="1" height="2"/><rect class="c8" x="2" y="7" width="1" height="1"/>
<rect class="c7" x="8" y="0" width="1" height="8"/><rect class="c7" x="0" y="8" width="8" height="1"/><rect class="c8" x="8" y="8" width="1" height="1"/>
<rect class="c9" x="0" y="0" width="1" height="1"/><rect class="c9" x="1" y="1" width="1" height="1"/><rect class="c9" x="2" y="2" width="1" height="1"/><rect class="c9" x="3" y="3" width="1" height="1"/><rect class="c9" x="4" y="4" width="1" height="1"/><rect class="c9" x="5" y="5" width="1" height="1"/><rect class="c9" x="6" y="6" width="1" height="1"/><rect class="c9" x="7" y="7" width="1" height="1"/>
<rect class="c3" x="9" y="0" width="1" height="9"/><rect class="c1" x="10" y="0" width="1" height="9"/><rect class="c0" x="11" y="0" width="1" height="9"/>
<rect class="c3" x="0" y="9" width="9" height="1"/><rect class="c1" x="0" y="10" width="9" height="1"/><rect class="c0" x="0" y="11" width="9" height="1"/>
<rect class="c9" x="9" y="9" width="1" height="1"/><rect class="c7" x="10" y="9" width="1" height="1"/><rect class="c3" x="11" y="9" width="1" height="1"/>
<rect class="c7" x="9" y="10" width="1" height="1"/><rect class="c9" x="10" y="10" width="1" height="1"/><rect class="c4" x="11" y="10" width="1" height="1"/>
<rect class="c2" x="9" y="11" width="1" height="1"/><rect class="c4" x="10" y="11" width="1" height="1"/><rect class="c9" x="11" y="11" width="1" height="1"/>
</g>
<!-- heatmap 3: r3->8 -->
<g transform="translate(2337 2007) scale(22.42)" shape-rendering="crispEdges">
<rect class="c7" x="0" y="0" width="12" height="12"/>
<rect class="c8b" x="2" y="2" width="7" height="7"/>
<rect class="c9" x="3" y="3" width="2" height="1"/><rect class="c9" x="3" y="4" width="3" height="1"/><rect class="c9" x="4" y="5" width="3" height="1"/><rect class="c9" x="5" y="6" width="3" height="1"/><rect class="c9" x="6" y="7" width="3" height="1"/><rect class="c9" x="7" y="8" width="2" height="1"/>
<rect class="c9" x="0" y="0" width="1" height="1"/><rect class="c5" x="2" y="0" width="7" height="1"/><rect class="c4" x="9" y="0" width="2" height="1"/><rect class="c3" x="11" y="0" width="1" height="1"/>
<rect class="c9" x="1" y="1" width="1" height="1"/><rect class="c6" x="9" y="1" width="2" height="1"/><rect class="c5" x="11" y="1" width="1" height="1"/>
<rect class="c6" x="0" y="2" width="1" height="1"/><rect class="c9" x="2" y="2" width="1" height="1"/><rect class="c6" x="11" y="2" width="1" height="1"/>
<rect class="c5" x="0" y="3" width="1" height="6"/><rect class="c6" x="11" y="3" width="1" height="6"/>
<rect class="c6" x="0" y="9" width="1" height="1"/><rect class="c8" x="2" y="9" width="7" height="1"/><rect class="c9" x="9" y="9" width="1" height="1"/><rect class="c8" x="10" y="9" width="1" height="1"/>
<rect class="c4" x="0" y="10" width="1" height="1"/><rect class="c6" x="1" y="10" width="1" height="1"/><rect class="c8" x="9" y="10" width="1" height="1"/><rect class="c9" x="10" y="10" width="1" height="1"/>
<rect class="c3" x="0" y="11" width="1" height="1"/><rect class="c5" x="1" y="11" width="1" height="1"/><rect class="c6" x="2" y="11" width="8" height="1"/><rect class="c9" x="11" y="11" width="1" height="1"/>
</g>
<!-- dashed overlays -->
<g stroke="#fff" stroke-width="7" fill="none">
<path d="M2059 2012H2323M2059 2012V2274M2252 2007V2274M2055 2204H2323"/>
<path d="M2410 2007V2274M2535 2007V2274M2337 2079H2607M2337 2204H2607"/>
</g>
<g stroke="#8a8a8a" stroke-width="4" stroke-dasharray="12 5" fill="none">
<path d="M2059 2012H2323M2059 2012V2274M2252 2007V2274M2055 2204H2323"/>
<path d="M2410 2007V2274M2535 2007V2274M2337 2079H2607M2337 2204H2607"/>
</g>
<g fill="#fff" stroke="#999" stroke-width="2">
<circle cx="2252" cy="2012" r="5"/><circle cx="2252" cy="2272" r="5"/><circle cx="2059" cy="2272" r="5"/><circle cx="2320" cy="2012" r="5"/><circle cx="2320" cy="2204" r="5"/>
<circle cx="2410" cy="2010" r="5"/><circle cx="2535" cy="2010" r="5"/><circle cx="2410" cy="2272" r="5"/><circle cx="2535" cy="2272" r="5"/><circle cx="2340" cy="2079" r="5"/><circle cx="2604" cy="2079" r="5"/><circle cx="2340" cy="2204" r="5"/><circle cx="2604" cy="2204" r="5"/>
</g>
<g font-size="24" fill="#fff" stroke="#888" stroke-width="0.8"><text x="2064" y="2034">Start</text><text x="2216" y="2200">End</text><text x="2414" y="2103">Start</text><text x="2499" y="2200">End</text></g>
<rect x="2628" y="1997" width="20" height="288" fill="url(#cb)"/>
<g stroke="#111" stroke-width="2"><path d="M2648 2000h6M2648 2065h6M2648 2130h6M2648 2195h6M2648 2260h6"/>
<path d="M1772 2018h-6M1772 2063h-6M1772 2108h-6M1772 2153h-6M1772 2198h-6M1772 2242h-6M2055 2018h-6M2055 2063h-6M2055 2108h-6M2055 2153h-6M2055 2198h-6M2055 2242h-6M2337 2018h-6M2337 2063h-6M2337 2108h-6M2337 2153h-6M2337 2198h-6M2337 2242h-6"/></g>
<g font-size="24" fill="#222"><text x="2657" y="2008">1.0</text><text x="2657" y="2073">0.8</text><text x="2657" y="2138">0.6</text><text x="2657" y="2203">0.4</text><text x="2657" y="2268">0.2</text></g>
<g font-size="28" fill="#222" text-anchor="end"><text x="1762" y="2028">0</text><text x="1762" y="2073">2</text><text x="1762" y="2118">4</text><text x="1762" y="2163">6</text><text x="1762" y="2208">8</text><text x="1762" y="2252">10</text></g>
<g font-size="28" fill="#222" text-anchor="middle">
<text x="1783" y="2309">0</text><text x="1828" y="2309">2</text><text x="1873" y="2309">4</text><text x="1918" y="2309">6</text><text x="1962" y="2309">8</text><text x="2007" y="2309">10</text>
<text x="2066" y="2309">0</text><text x="2111" y="2309">2</text><text x="2156" y="2309">4</text><text x="2201" y="2309">6</text><text x="2245" y="2309">8</text><text x="2290" y="2309">10</text>
<text x="2348" y="2309">0</text><text x="2393" y="2309">2</text><text x="2438" y="2309">4</text><text x="2483" y="2309">6</text><text x="2527" y="2309">8</text><text x="2572" y="2309">10</text>
</g>
<g font-size="28" font-weight="bold" fill="#111" text-anchor="middle">
<text x="1907" y="2339">Layer Index</text><text x="2190" y="2339">Layer Index</text><text x="2472" y="2339">Layer Index</text>
<text x="1907" y="1998">DiT-B/2</text>
<text x="2184" y="1998">r<tspan font-size="18" dy="6">0→8</tspan></text>
<text x="2466" y="1998">r<tspan font-size="18" dy="6">3→8</tspan></text>
</g>
<text transform="translate(1726,2142) rotate(-90)" text-anchor="middle" font-size="28" font-weight="bold">Layer Index</text>
<g font-size="38" fill="#111">
<text x="2699" y="2027" textLength="605" lengthAdjust="spacingAndGlyphs">Already strong similarity in baseline</text>
<text x="2699" y="2073">DiT.</text>
<text x="2699" y="2170" textLength="496" lengthAdjust="spacingAndGlyphs">TREAD increases similarity in</text>
<text x="2699" y="2217" textLength="348" lengthAdjust="spacingAndGlyphs">routed layers further</text>
<text x="2699" y="2264">→</text>
<text x="2745" y="2264" font-weight="bold" textLength="260" lengthAdjust="spacingAndGlyphs">Co-adaptation</text>
</g>

<!-- footer logos -->
<polygon points="1705,2445 1745,2423 1790,2440 1790,2490 1750,2505 1705,2488" fill="#ea6a7c"/>
<polygon points="1725,2450 1750,2438 1775,2450 1775,2478 1750,2490 1725,2478" fill="#d8324e"/>
<text x="1800" y="2458" font-size="38" font-weight="bold" fill="#e23c55" textLength="50" lengthAdjust="spacingAndGlyphs">nxt</text>
<text x="1796" y="2499" font-size="56" font-weight="bold" fill="#e23c55" textLength="92" lengthAdjust="spacingAndGlyphs">AIM</text>
<text x="1934" y="2497" font-family="Liberation Mono, monospace" font-weight="bold" font-size="88" fill="#000" textLength="312" lengthAdjust="spacingAndGlyphs">mcml</text>
<text x="2290" y="2432" font-size="22" fill="#6a9ad0">Funded by</text>
<text x="2290" y="2497" font-size="66" font-weight="bold" font-style="italic" fill="#1d5ca8" textLength="141" lengthAdjust="spacingAndGlyphs">DFG</text>
<text x="2453" y="2469" font-size="28" fill="#1d5ca8">Deutsche</text>
<text x="2453" y="2498" font-size="28" fill="#1d5ca8" textLength="245" lengthAdjust="spacingAndGlyphs">Forschungsgemeinschaft</text>
<text x="2453" y="2531" font-size="20" fill="#6a9ad0" textLength="214" lengthAdjust="spacingAndGlyphs">German Research Foundation</text>
<text x="2759" y="2497" font-size="92" fill="#14145a" textLength="160" lengthAdjust="spacingAndGlyphs">bidt</text>
<text x="2935" y="2471" font-size="28" fill="#14145a" textLength="300" lengthAdjust="spacingAndGlyphs">Ein Institut der Bayerischen</text>
<text x="2935" y="2502" font-size="28" fill="#14145a" textLength="308" lengthAdjust="spacingAndGlyphs">Akademie der Wissenschaften</text>
<path d="M3324 2455 c-8 4 -14 10 -14 18 c4 -2 6 2 6 6 c4 -2 6 4 8 8 c2 -4 4 -10 8 -8 c0 -4 2 -8 6 -6 c0 -8 -6 -14 -14 -18z" fill="#111"/>
<rect x="3347" y="2453" width="5" height="28" fill="#000"/><rect x="3347" y="2481" width="5" height="28" fill="#dd0000"/><rect x="3347" y="2509" width="5" height="29" fill="#ffce00"/>
<text x="3361" y="2428" font-size="10" fill="#111">SPONSORED BY THE</text>
<g font-size="16" fill="#111"><text x="3361" y="2466">Federal Ministry</text><text x="3361" y="2482">of Education</text><text x="3361" y="2498">and Research</text></g>

<!-- ================= RIGHT COLUMN ================= -->
<text x="3383" y="529" font-size="56" class="nv" textLength="230" lengthAdjust="spacingAndGlyphs">Results</text>
<text x="3519" y="606" font-size="36" fill="#111" textLength="475" lengthAdjust="spacingAndGlyphs">ImageNet-256 Conditional</text>
<path d="M3505 649 V1068 H4010" stroke="#111" stroke-width="2.5" fill="none"/>
<path d="M3655 1068v10M3806 1068v10M3956 1068v10M3505 776h-10M3505 903h-10M3505 1032h-10" stroke="#111" stroke-width="2.5"/>
<g font-size="32" fill="#111" text-anchor="middle"><text x="3655" y="1114">500</text><text x="3806" y="1114">1000</text><text x="3956" y="1114">1500</text></g>
<g font-size="32" fill="#111" text-anchor="end"><text x="3488" y="788">8</text><text x="3488" y="915">6</text><text x="3488" y="1044">4</text></g>
<text transform="translate(3445,863) rotate(-90)" text-anchor="middle" font-size="28" font-weight="bold">FID ↓</text>
<text x="3757" y="1156" font-size="34" text-anchor="middle">Epochs</text>
<polyline points="3528,779 3564,876 3744,908" fill="none" stroke="#777" stroke-width="4" stroke-dasharray="12 8"/>
<g fill="#6b6b6b"><circle cx="3555" cy="670" r="15.5"/><circle cx="3926" cy="670" r="15.5"/><circle cx="3926" cy="734" r="15.5"/><circle cx="3650" cy="824" r="15.5"/><circle cx="3896" cy="887" r="15.5"/><circle cx="3986" cy="922" r="15.5"/><circle cx="3528" cy="779" r="15.5"/><circle cx="3564" cy="876" r="15.5"/><circle cx="3744" cy="908" r="15.5"/></g>
<line x1="3552" y1="969" x2="3708" y2="1035" stroke="#22b14c" stroke-width="6"/>
<g fill="#22b14c"><circle cx="3552" cy="969" r="15.5"/><circle cx="3708" cy="1035" r="15.5"/></g>
<g font-size="24" fill="#111">
<text x="3574" y="686">DiT+REPA</text><text x="3905" y="686" text-anchor="end">DiT</text><text x="3940" y="720">SiT</text><text x="3665" y="810">SD-DiT</text><text x="3835" y="873">MDT</text><text x="3883" y="939">MaskDiT</text><text x="3626" y="925">SiT+REPA</text>
</g>
<text x="3726" y="1022" font-size="34" fill="#111" textLength="176" lengthAdjust="spacingAndGlyphs">DiT+TREAD</text>

<!-- table -->
<g fill="#f0f0f0">
<rect x="4201" y="634" width="679" height="28.6"/><rect x="4201" y="692" width="679" height="28.6"/><rect x="4201" y="750" width="679" height="28.6"/><rect x="4201" y="808" width="679" height="28.6"/>
<rect x="4201" y="906" width="679" height="28.6"/><rect x="4201" y="963" width="679" height="28.6"/><rect x="4201" y="1021" width="679" height="28.6"/><rect x="4201" y="1079" width="679" height="28.6"/>
</g>
<g fill="#111"><rect x="4201" y="557" width="679" height="2.5"/><rect x="4201" y="599" width="679" height="1.5"/><rect x="4201" y="870" width="679" height="1.5"/><rect x="4201" y="1142" width="679" height="2.5"/></g>
<g class="sf" font-size="22" fill="#111">
<text x="4216" y="587" font-weight="bold">Method</text>
<g text-anchor="middle" font-weight="bold"><text x="4468" y="587">Epochs</text><text x="4543" y="587">FID↓</text><text x="4612" y="587">sFID↓</text><text x="4689" y="587">IS↑</text><text x="4767" y="587">Prec.↑</text><text x="4840" y="587">Rec.↑</text></g>
<text x="4216" y="628" font-style="italic">Unguided</text>
<text x="4216" y="656">SD-DiT-XL/2 [<tspan fill="#3a78d0">78</tspan>]<tspan font-size="14" dy="-8">†</tspan></text>
<text x="4216" y="685">MDT-XL/2 [<tspan fill="#3a78d0">18</tspan>]<tspan font-size="14" dy="-8">†</tspan></text>
<text x="4216" y="714">SiT-XL/2 [<tspan fill="#3a78d0">41</tspan>]</text>
<text x="4216" y="743">MaskDiT-XL/2 [<tspan fill="#3a78d0">77</tspan>]<tspan font-size="14" dy="-8">†</tspan></text>
<text x="4216" y="772">DiT-XL/2<tspan font-size="14" dy="5">+REPA</tspan><tspan dy="-5">[</tspan><tspan fill="#3a78d0">74</tspan>]<tspan font-size="14" dy="-8">†</tspan></text>
<text x="4216" y="801">DiT-XL/2 [<tspan fill="#3a78d0">49</tspan>]</text>
<text x="4238" y="830" font-weight="bold">+TREAD</text>
<text x="4238" y="858" font-weight="bold">+TREAD</text>
<text x="4216" y="900" font-style="italic">Guided</text>
<text x="4216" y="928">SD-DiT-XL/2 [<tspan fill="#3a78d0">78</tspan>]<tspan font-size="14" dy="-8">†</tspan></text>
<text x="4216" y="957">MDT-XL/2 [<tspan fill="#3a78d0">18</tspan>]<tspan font-size="14" dy="-8">†</tspan></text>
<text x="4216" y="985">MaskDiT-XL/2 [<tspan fill="#3a78d0">77</tspan>]<tspan font-size="14" dy="-8">†</tspan></text>
<text x="4216" y="1014">SiT-XL/2 [<tspan fill="#3a78d0">41</tspan>]</text>
<text x="4216" y="1043">DiT-XL/2 [<tspan fill="#3a78d0">49</tspan>]</text>
<text x="4238" y="1071"><tspan font-weight="bold">+TREAD</tspan>(F)</text>
<text x="4238" y="1101"><tspan font-weight="bold">+TREAD</tspan>(F)</text>
<text x="4238" y="1129"><tspan font-weight="bold">+TREAD</tspan>(F)<tspan font-size="14" dy="-8">‡</tspan></text>
<g text-anchor="middle">
<text x="4468" y="656">480</text><text x="4543" y="656">7.21</text><text x="4612" y="656">5.17</text><text x="4689" y="656">144.68</text><text x="4767" y="656">0.72</text><text x="4840" y="656">0.61</text>
<text x="4468" y="685">1300</text><text x="4543" y="685">6.23</text><text x="4612" y="685">5.23</text><text x="4689" y="685">143.02</text><text x="4767" y="685">0.71</text><text x="4840" y="685">0.65</text>
<text x="4468" y="714">1400</text><text x="4543" y="714">8.61</text><text x="4612" y="714">6.32</text><text x="4689" y="714">131.65</text><text x="4767" y="714">0.68</text><text x="4840" y="714">0.67</text>
<text x="4468" y="743">1600</text><text x="4543" y="743">5.69</text><text x="4612" y="743">10.34</text><text x="4689" y="743">177.99</text><text x="4767" y="743">0.74</text><text x="4840" y="743">0.60</text>
<text x="4468" y="772">170</text><text x="4543" y="772">9.60</text><text x="4612" y="772">-</text><text x="4689" y="772">-</text><text x="4767" y="772">-</text><text x="4840" y="772">-</text>
<text x="4468" y="801">1400</text><text x="4543" y="801">9.62</text><text x="4612" y="801">6.85</text><text x="4689" y="801">121.50</text><text x="4767" y="801">0.67</text><text x="4840" y="801">0.67</text>
<text x="4468" y="830">160</text><text x="4543" y="830">4.96</text><text x="4612" y="830">6.83</text><text x="4689" y="830">192.49</text><text x="4767" y="830">0.79</text><text x="4840" y="830">0.54</text>
<text x="4468" y="858">680</text><text x="4543" y="858" font-weight="bold">3.93</text><text x="4612" y="858">7.32</text><text x="4689" y="858">211.35</text><text x="4767" y="858">0.76</text><text x="4840" y="858">0.60</text>
<text x="4468" y="928">480</text><text x="4543" y="928">3.23</text><text x="4612" y="928">-</text><text x="4689" y="928">-</text><text x="4767" y="928">-</text><text x="4840" y="928">-</text>
<text x="4468" y="957">1300</text><text x="4543" y="957">1.79</text><text x="4612" y="957">4.57</text><text x="4689" y="957">283.01</text><text x="4767" y="957">0.81</text><text x="4840" y="957">0.61</text>
<text x="4468" y="985">1600</text><text x="4543" y="985">2.28</text><text x="4612" y="985">5.67</text><text x="4689" y="985">276.56</text><text x="4767" y="985">0.80</text><text x="4840" y="985">0.61</text>
<text x="4468" y="1014">1400</text><text x="4543" y="1014">2.06</text><text x="4612" y="1014">4.50</text><text x="4689" y="1014">270.30</text><text x="4767" y="1014">0.82</text><text x="4840" y="1014">0.59</text>
<text x="4468" y="1043">1400</text><text x="4543" y="1043">2.27</text><text x="4612" y="1043">4.60</text><text x="4689" y="1043">278.24</text><text x="4767" y="1043">0.83</text><text x="4840" y="1043">0.57</text>
<text x="4468" y="1071">220</text><text x="4543" y="1071">2.76</text><text x="4612" y="1071">4.61</text><text x="4689" y="1071">252.78</text><text x="4767" y="1071">0.83</text><text x="4840" y="1071">0.57</text>
<text x="4468" y="1101">740</text><text x="4543" y="1101">2.09</text><text x="4612" y="1101">4.46</text><text x="4689" y="1101">269.07</text><text x="4767" y="1101">0.81</text><text x="4840" y="1101">0.62</text>
<text x="4468" y="1129">740</text><text x="4543" y="1129" font-weight="bold">1.69</text><text x="4612" y="1129">4.73</text><text x="4689" y="1129">292.66</text><text x="4767" y="1129">0.81</text><text x="4840" y="1129">0.63</text>
</g>
<text x="4226" y="1164" font-size="17" textLength="632" lengthAdjust="spacingAndGlyphs">(†) alters the architecture or uses additional parameters.     (‡) uses interval guidance [<tspan fill="#3a78d0">34</tspan>].</text>
</g>

<text x="3383" y="1246" font-size="56" class="nv" textLength="780" lengthAdjust="spacingAndGlyphs">Gains generalize across...</text>
<g font-size="36" class="nv">
<text x="3380" y="1326" textLength="219" lengthAdjust="spacingAndGlyphs">Model Scale</text>
<text x="4183" y="1326" textLength="192" lengthAdjust="spacingAndGlyphs">Objectives</text>
<text x="4598" y="1326" textLength="200" lengthAdjust="spacingAndGlyphs">Backbones</text>
<text x="3380" y="1904" textLength="807" lengthAdjust="spacingAndGlyphs">Resolution &amp; Conditioning (Class-cond &amp; T2I)</text>
<text x="4246" y="1904" textLength="638" lengthAdjust="spacingAndGlyphs">other methods (REPA, LightningDiT)</text>
</g>

<g font-size="28" font-weight="bold" fill="#111" text-anchor="middle">
<text x="3607" y="1377">DiT on ImageNet-256</text>
<text x="4008" y="1377">SiT on ImageNet-256</text>
<text x="4403" y="1373">XL/2: SiT vs DiT</text>
<text x="4811" y="1373">RWKV &amp; Mamba</text>
<text x="3558" y="1952">ImageNet-512</text>
<text x="3908" y="1952">MS-COCO (T2I)</text>
<text x="4463" y="1952">REPA</text>
<text x="4816" y="1952">LightningDiT</text>
</g>
<g font-size="22" font-weight="bold" text-anchor="middle" fill="#111">
<text transform="translate(3397,1540) rotate(-90)">FID↓</text>
<text transform="translate(3796,1540) rotate(-90)">FID↓</text>
<text transform="translate(4207,1536) rotate(-90)">FID↓</text>
<text transform="translate(4614,1536) rotate(-90)">FID↓</text>
<text transform="translate(3397,2116) rotate(-90)">FID↓</text>
<text transform="translate(3745,2116) rotate(-90)">FID↓</text>
<text transform="translate(4265,2115) rotate(-90)">FID↓</text>
<text transform="translate(4658,2115) rotate(-90)">FID↓</text>
</g>

<!-- Chart 1 DiT lines -->
<path d="M3444 1388V1689H3768" stroke="#111" stroke-width="2" fill="none"/>
<path d="M3444 1448h-8M3444 1531h-8M3444 1613h-8M3458 1689v9M3556 1689v9M3655 1689v9M3755 1689v9" stroke="#111" stroke-width="2"/>
<g font-size="24" fill="#222" text-anchor="end"><text x="3432" y="1456">60</text><text x="3432" y="1539">40</text><text x="3432" y="1621">20</text></g>
<g font-size="24" fill="#222" text-anchor="middle"><text x="3458" y="1720">S/2</text><text x="3556" y="1720">B/2</text><text x="3655" y="1720">L/2</text><text x="3755" y="1720">XL/2</text><text x="3607" y="1750" font-size="26">Model size</text></g>
<polyline points="3458,1414 3556,1516 3655,1599 3755,1614" fill="none" stroke="#6e6e6e" stroke-width="5"/>
<polyline points="3458,1502 3556,1607 3655,1657 3755,1665" fill="none" stroke="#22b33e" stroke-width="5"/>
<g fill="#6e6e6e"><circle cx="3458" cy="1414" r="6"/><circle cx="3556" cy="1516" r="6"/><circle cx="3655" cy="1599" r="6"/><circle cx="3755" cy="1614" r="6"/></g>
<g fill="#22b33e"><circle cx="3458" cy="1502" r="6"/><circle cx="3556" cy="1607" r="6"/><circle cx="3655" cy="1657" r="6"/><circle cx="3755" cy="1665" r="6"/></g>
<path d="M3663 1415h22" stroke="#6e6e6e" stroke-width="6"/><path d="M3663 1438h22" stroke="#22b33e" stroke-width="6"/>
<g font-size="24" fill="#222"><text x="3694" y="1424">Base</text><text x="3694" y="1447">TREAD</text></g>
<!-- Chart 2 SiT lines -->
<path d="M3846 1388V1689H4170" stroke="#111" stroke-width="2" fill="none"/>
<path d="M3846 1403h-8M3846 1451h-8M3846 1499h-8M3846 1547h-8M3846 1594h-8M3846 1642h-8M3846 1689h-8M3859 1689v9M3958 1689v9M4058 1689v9M4157 1689v9" stroke="#111" stroke-width="2"/>
<g font-size="24" fill="#222" text-anchor="end"><text x="3834" y="1411">60</text><text x="3834" y="1459">50</text><text x="3834" y="1507">40</text><text x="3834" y="1555">30</text><text x="3834" y="1602">20</text><text x="3834" y="1650">10</text><text x="3834" y="1697">0</text></g>
<g font-size="24" fill="#222" text-anchor="middle"><text x="3859" y="1720">S/2</text><text x="3958" y="1720">B/2</text><text x="4058" y="1720">L/2</text><text x="4157" y="1720">XL/2</text><text x="4008" y="1750" font-size="26">Model size</text></g>
<polyline points="3859,1415 3958,1531 4058,1599 4157,1606" fill="none" stroke="#6e6e6e" stroke-width="5"/>
<polyline points="3859,1507 3958,1612 4058,1661 4157,1665" fill="none" stroke="#22b33e" stroke-width="5"/>
<g fill="#6e6e6e"><circle cx="3859" cy="1415" r="6"/><circle cx="3958" cy="1531" r="6"/><circle cx="4058" cy="1599" r="6"/><circle cx="4157" cy="1606" r="6"/></g>
<g fill="#22b33e"><circle cx="3859" cy="1507" r="6"/><circle cx="3958" cy="1612" r="6"/><circle cx="4058" cy="1661" r="6"/><circle cx="4157" cy="1665" r="6"/></g>
<path d="M4062 1415h22" stroke="#6e6e6e" stroke-width="6"/><path d="M4062 1438h22" stroke="#22b33e" stroke-width="6"/>
<g font-size="24" fill="#222"><text x="4094" y="1424">Base</text><text x="4094" y="1447">TREAD</text></g>

<!-- Chart 3 XL/2 -->
<rect x="4263" y="1411" width="59" height="278" fill="#6e6e6e"/><rect x="4322" y="1584" width="59" height="105" fill="#22b33e"/>
<rect x="4427" y="1443" width="59" height="246" fill="#6e6e6e"/><rect x="4486" y="1619" width="58" height="70" fill="#22b33e"/>
<path d="M4250 1383V1689H4556" stroke="#111" stroke-width="2" fill="none"/>
<path d="M4250 1403h-8M4250 1474h-8M4250 1546h-8M4250 1617h-8M4250 1689h-8M4322 1689v9M4486 1689v9" stroke="#111" stroke-width="2"/>
<g font-size="24" fill="#222" text-anchor="end"><text x="4238" y="1411">20</text><text x="4238" y="1482">15</text><text x="4238" y="1554">10</text><text x="4238" y="1625">5</text><text x="4238" y="1697">0</text></g>
<g font-size="24" fill="#222" text-anchor="middle"><text x="4322" y="1720">DiT</text><text x="4486" y="1720">SiT</text></g>
<path d="M4263 1411H4381M4427 1443H4545" stroke="#555" stroke-width="2.5" stroke-dasharray="2 3"/>
<path d="M4352 1414V1568M4514 1446V1603" stroke="#444" stroke-width="2"/><path d="M4352 1580l-6 -13h12zM4514 1615l-6 -13h12z" fill="#444"/>
<g font-size="16" fill="#444"><text x="4357" y="1500">+12.09</text><text x="4520" y="1535">+12.31</text></g>
<rect x="4312" y="1378" width="19" height="17" fill="#6e6e6e"/><text x="4340" y="1395" font-size="22" fill="#222">Base</text>
<rect x="4399" y="1378" width="19" height="17" fill="#22b33e"/><text x="4426" y="1395" font-size="22" fill="#222">+ TREAD</text>
<!-- Chart 4 RWKV -->
<rect x="4673" y="1448" width="58" height="241" fill="#6e6e6e"/><rect x="4731" y="1472" width="59" height="217" fill="#22b33e"/>
<rect x="4835" y="1411" width="60" height="278" fill="#6e6e6e"/><rect x="4895" y="1443" width="58" height="246" fill="#22b33e"/>
<path d="M4658 1383V1689H4973" stroke="#111" stroke-width="2" fill="none"/>
<path d="M4658 1408h-8M4658 1448h-8M4658 1488h-8M4658 1528h-8M4658 1569h-8M4658 1609h-8M4658 1649h-8M4658 1689h-8M4731 1689v9M4895 1689v9" stroke="#111" stroke-width="2"/>
<g font-size="24" fill="#222" text-anchor="end"><text x="4646" y="1416">70</text><text x="4646" y="1456">60</text><text x="4646" y="1496">50</text><text x="4646" y="1536">40</text><text x="4646" y="1577">30</text><text x="4646" y="1617">20</text><text x="4646" y="1657">10</text><text x="4646" y="1697">0</text></g>
<g font-size="24" fill="#222" text-anchor="middle"><text x="4731" y="1720">RWKV</text><text x="4895" y="1720">Mamba</text></g>
<path d="M4673 1448H4790M4835 1411H4953" stroke="#555" stroke-width="2.5" stroke-dasharray="2 3"/>
<path d="M4759 1451V1460M4922 1414V1430" stroke="#444" stroke-width="2"/><path d="M4759 1470l-5 -11h10zM4922 1440l-5 -11h10z" fill="#444"/>
<g font-size="16" fill="#444"><text x="4767" y="1464">+6.05</text><text x="4931" y="1430">+8.22</text></g>
<rect x="4720" y="1378" width="19" height="17" fill="#6e6e6e"/><text x="4748" y="1395" font-size="22" fill="#222">Base</text>
<rect x="4809" y="1378" width="19" height="17" fill="#22b33e"/><text x="4837" y="1395" font-size="22" fill="#222">+ TREAD</text>

<!-- ImageNet-512 -->
<rect x="3451" y="1988" width="108" height="277" fill="#6e6e6e"/><rect x="3559" y="2086" width="107" height="179" fill="#22b33e"/>
<path d="M3438 1925V2265H3677" stroke="#111" stroke-width="2" fill="none"/>
<path d="M3438 2002h-8M3438 2046h-8M3438 2089h-8M3438 2133h-8M3438 2178h-8M3438 2221h-8M3438 2265h-8M3559 2265v9" stroke="#111" stroke-width="2"/>
<g font-size="24" fill="#222" text-anchor="end"><text x="3426" y="2010">60</text><text x="3426" y="2054">50</text><text x="3426" y="2097">40</text><text x="3426" y="2141">30</text><text x="3426" y="2186">20</text><text x="3426" y="2229">10</text><text x="3426" y="2273">0</text></g>
<text x="3559" y="2293" font-size="24" fill="#222" text-anchor="middle">DiT-B/2</text>
<path d="M3451 1988H3666" stroke="#555" stroke-width="2.5" stroke-dasharray="2 3"/>
<path d="M3613 1991V2068" stroke="#444" stroke-width="2"/><path d="M3613 2080l-6 -13h12z" fill="#444"/>
<text x="3622" y="2041" font-size="16" fill="#444">+21.97</text>
<rect x="3465" y="1957" width="20" height="17" fill="#6e6e6e"/><text x="3495" y="1974" font-size="22" fill="#222">Base</text>
<rect x="3555" y="1957" width="21" height="17" fill="#22b33e"/><text x="3585" y="1974" font-size="22" fill="#222">+ TREAD</text>
<!-- MS-COCO -->
<rect x="3799" y="1990" width="109" height="276" fill="#6e6e6e"/><rect x="3908" y="2107" width="109" height="159" fill="#22b33e"/>
<path d="M3785 1925V2266H4027" stroke="#111" stroke-width="2" fill="none"/>
<path d="M3785 1996h-8M3785 2035h-8M3785 2073h-8M3785 2112h-8M3785 2150h-8M3785 2189h-8M3785 2227h-8M3785 2266h-8M3908 2266v9" stroke="#111" stroke-width="2"/>
<g font-size="24" fill="#222" text-anchor="end"><text x="3773" y="2004">35</text><text x="3773" y="2043">30</text><text x="3773" y="2081">25</text><text x="3773" y="2120">20</text><text x="3773" y="2158">15</text><text x="3773" y="2197">10</text><text x="3773" y="2235">5</text><text x="3773" y="2274">0</text></g>
<text x="3908" y="2293" font-size="24" fill="#222" text-anchor="middle">DiT-B/2</text>
<path d="M3799 1990H4017" stroke="#555" stroke-width="2.5" stroke-dasharray="2 3"/>
<path d="M3961 1993V2090" stroke="#444" stroke-width="2"/><path d="M3961 2102l-6 -13h12z" fill="#444"/>
<text x="3971" y="2052" font-size="16" fill="#444">+15.13</text>
<rect x="3813" y="1957" width="22" height="17" fill="#6e6e6e"/><text x="3846" y="1974" font-size="22" fill="#222">Base</text>
<rect x="3904" y="1957" width="22" height="17" fill="#22b33e"/><text x="3935" y="1974" font-size="22" fill="#222">+ TREAD</text>
<!-- REPA -->
<rect x="4323" y="1989" width="58" height="277" fill="#6e6e6e"/><rect x="4381" y="2045" width="59" height="221" fill="#a5a5a5"/>
<rect x="4485" y="2130" width="58" height="136" fill="#22b33e"/><rect x="4543" y="2139" width="59" height="127" fill="#2ca02c"/>
<path d="M4309 1935V2266H4616" stroke="#111" stroke-width="2" fill="none"/>
<path d="M4309 2012h-8M4309 2075h-8M4309 2139h-8M4309 2203h-8M4309 2266h-8M4463 2266v9" stroke="#111" stroke-width="2"/>
<g font-size="24" fill="#222" text-anchor="end"><text x="4297" y="2020">40</text><text x="4297" y="2083">30</text><text x="4297" y="2147">20</text><text x="4297" y="2211">10</text><text x="4297" y="2274">0</text></g>
<text x="4463" y="2293" font-size="24" fill="#222" text-anchor="middle">DiT-B/2</text>
<path d="M4323 1989H4602" stroke="#555" stroke-width="2.5" stroke-dasharray="2 3"/>
<path d="M4410 1992V2028M4514 1992V2114M4572 1992V2121" stroke="#444" stroke-width="2"/><path d="M4410 2040l-6 -13h12zM4514 2126l-6 -13h12zM4572 2133l-6 -13h12z" fill="#444"/>
<g font-size="16" fill="#444"><text x="4417" y="2021">+8.84</text><text x="4520" y="2063">+22.13</text><text x="4578" y="2068">+23.41</text></g>
<g font-size="15" fill="#333"><rect x="4343" y="1954" width="9" height="12" fill="#6e6e6e"/><text x="4355" y="1966">Base</text><rect x="4388" y="1954" width="9" height="12" fill="#a5a5a5"/><text x="4400" y="1966">+ REPA</text><rect x="4443" y="1954" width="9" height="12" fill="#22b33e"/><text x="4455" y="1966">+ TREAD</text><rect x="4503" y="1954" width="9" height="12" fill="#2ca02c"/><text x="4515" y="1966">+ TREAD + REPA</text></g>
<!-- LightningDiT -->
<rect x="4703" y="1991" width="113" height="275" fill="#6e6e6e"/><rect x="4816" y="2067" width="114" height="199" fill="#22b33e"/>
<path d="M4691 1965V2266H4940" stroke="#111" stroke-width="2" fill="none"/>
<path d="M4691 1998h-8M4691 2052h-8M4691 2105h-8M4691 2160h-8M4691 2213h-8M4691 2266h-8M4816 2266v9" stroke="#111" stroke-width="2"/>
<g font-size="24" fill="#222" text-anchor="end"><text x="4679" y="2006">5</text><text x="4679" y="2060">4</text><text x="4679" y="2113">3</text><text x="4679" y="2168">2</text><text x="4679" y="2221">1</text><text x="4679" y="2274">0</text></g>
<text x="4816" y="2293" font-size="24" fill="#222" text-anchor="middle">LightningDiT</text>
<path d="M4703 1991H4930" stroke="#555" stroke-width="2.5" stroke-dasharray="2 3"/>
<path d="M4873 1994V2050" stroke="#444" stroke-width="2"/><path d="M4873 2062l-6 -13h12z" fill="#444"/>
<text x="4884" y="2032" font-size="16" fill="#444">+1.43</text>
<rect x="4721" y="1958" width="22" height="16" fill="#6e6e6e"/><text x="4755" y="1975" font-size="22" fill="#222">Base</text>
<rect x="4812" y="1958" width="23" height="16" fill="#22b33e"/><text x="4844" y="1975" font-size="22" fill="#222">+ TREAD</text>
</svg>
</body></html>
